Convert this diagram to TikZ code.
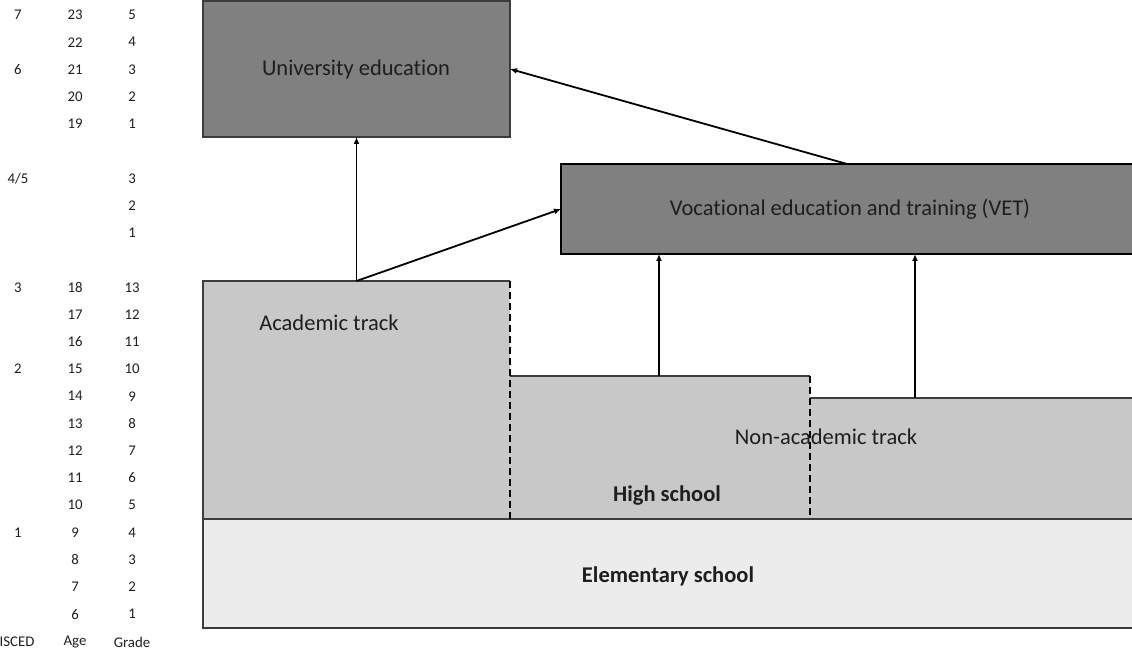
\documentclass[tikz,border=0pt]{standalone}
\usepackage{fontspec}
\setmainfont{Carlito}[Ligatures={NoCommon}]
\usetikzlibrary{arrows.meta}
\definecolor{darkbox}{HTML}{808080}
\definecolor{midbox}{HTML}{C8C8C8}
\definecolor{lightbox}{HTML}{ECECEC}
\definecolor{txt}{HTML}{1E1E1E}
\definecolor{edgegray}{HTML}{3C3C3C}
\tikzset{
  area/.style={anchor=north west, inner sep=0pt, outer sep=0pt, draw=none},
  boxlabel/.style={font=\fontsize{22.5}{24}\selectfont, text=txt, inner sep=0pt},
  boldlabel/.style={font=\fontsize{22.5}{24}\selectfont\bfseries, text=txt, inner sep=0pt},
  col/.style={font=\fontsize{14.8}{16}\selectfont, text=txt, inner sep=0pt},
  arr/.style={-{Latex[length=7pt,width=6pt]}, line width=1.8pt, black},
  outline/.style={line width=1.1pt, draw=edgegray},
  dashline/.style={line width=1.1pt, black, dash pattern=on 7pt off 4pt},
}
\begin{document}
\begin{tikzpicture}[x=1pt,y=-1pt]
\useasboundingbox (0,0) rectangle (1132,652);
% boxes
\node[area, fill=darkbox, minimum width=307pt, minimum height=136pt] (univ) at (203,1) {};
\node[area, fill=darkbox, minimum width=572pt, minimum height=90pt] (vet) at (561,164) {};
\node[area, fill=midbox, minimum width=307pt, minimum height=238pt] (acad) at (203,281) {};
\node[area, fill=midbox, minimum width=300pt, minimum height=143pt] (mid) at (510,376) {};
\node[area, fill=midbox, minimum width=322pt, minimum height=121pt] (nonac) at (810,398) {};
\node[area, fill=lightbox, minimum width=929pt, minimum height=109pt] (elem) at (203,519) {};
% outlines
\draw[outline] (univ.north west) rectangle (univ.south east);
\draw[line width=1.1pt, black] (vet.north east) -- (vet.north west) -- (vet.south west) -- (vet.south east);
\draw[outline] (acad.south west) -- (acad.north west) -- (acad.north east);
\draw[outline] (mid.north west) -- (mid.north east);
\draw[outline] (nonac.north west) -- (nonac.north east);
\draw[outline] (elem.north east) -- (elem.north west) -- (elem.south west) -- (elem.south east);
\draw[dashline] (acad.north east) -- (acad.south east);
\draw[dashline] (mid.north east) -- (mid.south east);
% labels
\node[boxlabel] (tu) at (356,70) {University education};
\node[boxlabel] (tv) at (850,209) {Vocational education and training (VET)};
\node[boxlabel] (ta) at (329,323) {Academic track};
\node[boxlabel] (tn) at (826,437) {Non-academic track};
\node[boldlabel] (th) at (667,496) {High school};
\node[boldlabel] (te) at (668,576) {Elementary school};
% arrows
\coordinate (m1) at (659,376);
\coordinate (n1) at (915,398);
\draw[arr] (acad.north) -- (univ.south);
\draw[arr] (acad.north) -- (vet.west);
\draw[arr] (vet.north) -- (univ.east);
\draw[arr] (m1) -- (m1 |- vet.south);
\draw[arr] (n1) -- (n1 |- vet.south);
% left table
\foreach \r/\a/\g in {0/23/5,1/22/4,2/21/3,3/20/2,4/19/1,6//3,7//2,8//1,10/18/13,11/17/12,12/16/11,13/15/10,14/14/9,15/13/8,16/12/7,17/11/6,18/10/5,19/9/4,20/8/3,21/7/2,22/6/1}{
  \node[col] (age\r) at (75,15+27.23*\r) {\a};
  \node[col] (gr\r) at (132,15+27.23*\r) {\g};
}
\foreach \r/\i in {0/7,2/6,6/4\slash 5,10/3,13/2,19/1}{
  \node[col] (is\r) at (18,15+27.23*\r) {\i};
}
\node[col] (hisced) at (17,642) {ISCED};
\node[col] (hage) at (75,642) {Age};
\node[col] (hgrade) at (132,642) {Grade};
\end{tikzpicture}
\end{document}
